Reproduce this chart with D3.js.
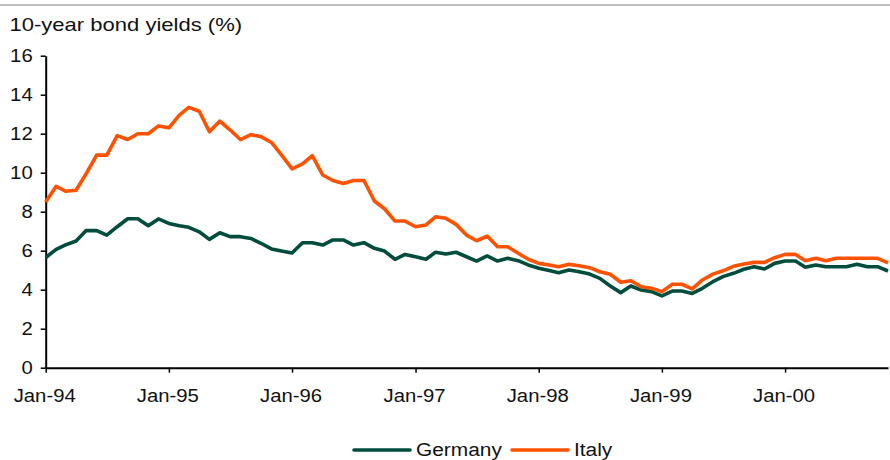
<!DOCTYPE html>
<html>
<head>
<meta charset="utf-8">
<script src="https://cdn.jsdelivr.net/npm/d3@7"></script>
<style>
  body { margin: 0; background: #fff; }
  svg { display: block; font-family: "Liberation Sans", Arial, sans-serif; }
</style>
</head>
<body>
<svg id="chart" width="890" height="460"></svg>
<script>
// monthly yields, Jan-94 .. Nov-00
var germany = [5.65, 6.07, 6.3, 6.5, 7.03, 7.03, 6.8, 7.23, 7.64, 7.64, 7.28, 7.63,
  7.4, 7.28, 7.2, 6.97, 6.58, 6.92, 6.72, 6.72, 6.63, 6.38, 6.09, 5.98,
  5.88, 6.41, 6.41, 6.29, 6.55, 6.55, 6.29, 6.41, 6.12, 5.98, 5.56, 5.81,
  5.69, 5.56, 5.92, 5.83, 5.92, 5.69, 5.47, 5.73, 5.47, 5.61, 5.49, 5.27,
  5.1, 4.98, 4.87, 5.01, 4.92, 4.8, 4.58, 4.19, 3.85, 4.19, 3.98, 3.9,
  3.68, 3.93, 3.93, 3.81, 4.07, 4.41, 4.67, 4.84, 5.05, 5.18, 5.06, 5.35,
  5.47, 5.47, 5.15, 5.27, 5.18, 5.18, 5.18, 5.3, 5.18, 5.18, 4.96];

var italy = [8.5, 9.3, 9.05, 9.1, 9.95, 10.9, 10.9, 11.9, 11.7, 12.0, 12.0, 12.4,
  12.3, 12.95, 13.35, 13.15, 12.1, 12.65, 12.2, 11.7, 11.95, 11.85, 11.55, 10.9,
  10.2, 10.45, 10.87, 9.88, 9.6, 9.45, 9.6, 9.6, 8.55, 8.15, 7.52, 7.52,
  7.23, 7.32, 7.74, 7.66, 7.35, 6.8, 6.51, 6.75, 6.2, 6.2, 5.87, 5.56,
  5.35, 5.27, 5.18, 5.3, 5.23, 5.13, 4.92, 4.79, 4.38, 4.46, 4.15, 4.07,
  3.9, 4.28, 4.28, 4.04, 4.5, 4.8, 4.97, 5.2, 5.32, 5.4, 5.4, 5.64,
  5.81, 5.81, 5.49, 5.61, 5.49, 5.61, 5.61, 5.61, 5.61, 5.61, 5.38];

var seriesNames = ["Germany", "Italy"];
var seriesColors = ["#004d3d", "#ff5200"];
var xTickLabels = ["Jan-94", "Jan-95", "Jan-96", "Jan-97", "Jan-98", "Jan-99", "Jan-00"];
var yTicks = [0, 2, 4, 6, 8, 10, 12, 14, 16];

var startDate = new Date(1994, 0, 1);
var parseTick = d3.timeParse("%b-%y");

var svg = d3.select("#chart");
var sx = 1.16; // text in the picture is a bit wide

var xScale = d3.scaleTime()
  .domain([startDate, d3.timeMonth.offset(startDate, italy.length - 1)])
  .range([45.7, 888]);

var yScale = d3.scaleLinear()
  .domain([0, 16])
  .range([367.7, 55.7]);

// grey rule at the top
svg.append("line")
  .attr("x1", 0).attr("x2", 890)
  .attr("y1", 5).attr("y2", 5)
  .attr("stroke", "#c0c0c0")
  .attr("stroke-width", 2);

svg.append("text")
  .attr("transform", "translate(9.5,30.5) scale(" + sx + ",1)")
  .attr("font-size", 19)
  .attr("fill", "#111")
  .text("10-year bond yields (%)");

// y axis
var yAxis = svg.append("g")
  .attr("transform", "translate(45.7,0)")
  .call(d3.axisLeft(yScale).tickValues(yTicks).tickSize(5).tickSizeOuter(0).tickPadding(0));
yAxis.select(".domain").attr("stroke", "#000").attr("stroke-width", 2);
yAxis.selectAll(".tick line").attr("stroke", "#000").attr("stroke-width", 1.5);
yAxis.selectAll(".tick text")
  .attr("x", null).attr("dy", null)
  .attr("transform", "translate(-13,6.2) scale(" + sx + ",1)")
  .attr("font-size", 17.5)
  .attr("fill", "#111");

// x axis
var xAxis = svg.append("g")
  .attr("transform", "translate(0,367.7)")
  .call(d3.axisBottom(xScale)
    .tickValues(xTickLabels.map(function (d) { return parseTick(d); }))
    .tickFormat(d3.timeFormat("%b-%y"))
    .tickSize(5).tickSizeOuter(0).tickPadding(0));
xAxis.select(".domain").attr("stroke", "#000").attr("stroke-width", 2);
xAxis.selectAll(".tick line").attr("stroke", "#000").attr("stroke-width", 1.5);
xAxis.selectAll(".tick text")
  .attr("y", null).attr("dy", null)
  .attr("transform", "translate(-1.5,34.5) scale(" + sx + ",1)")
  .attr("font-size", 17.5)
  .attr("fill", "#111");
xAxis.selectAll("path, line, text").attr("font-family", null);
yAxis.attr("font-family", null);
xAxis.attr("font-family", null);

// lines
var line = d3.line()
  .x(function (d, i) { return xScale(d3.timeMonth.offset(startDate, i)); })
  .y(function (d) { return yScale(d); });

[germany, italy].forEach(function (s, k) {
  svg.append("path")
    .datum(s)
    .attr("fill", "none")
    .attr("stroke", seriesColors[k])
    .attr("stroke-width", 3.6)
    .attr("stroke-linejoin", "round")
    .attr("d", line);
});

// legend
var legendX = [354, 512];
var leg = svg.append("g");
seriesNames.forEach(function (name, k) {
  leg.append("line")
    .attr("x1", legendX[k]).attr("x2", legendX[k] + 56)
    .attr("y1", 450).attr("y2", 450)
    .attr("stroke", seriesColors[k])
    .attr("stroke-width", 3.6)
    .attr("stroke-linecap", "round");
  leg.append("text")
    .attr("transform", "translate(" + (legendX[k] + 62) + ",456) scale(" + sx + ",1)")
    .attr("font-size", 18)
    .attr("fill", "#111")
    .text(name);
});
</script>
</body>
</html>
